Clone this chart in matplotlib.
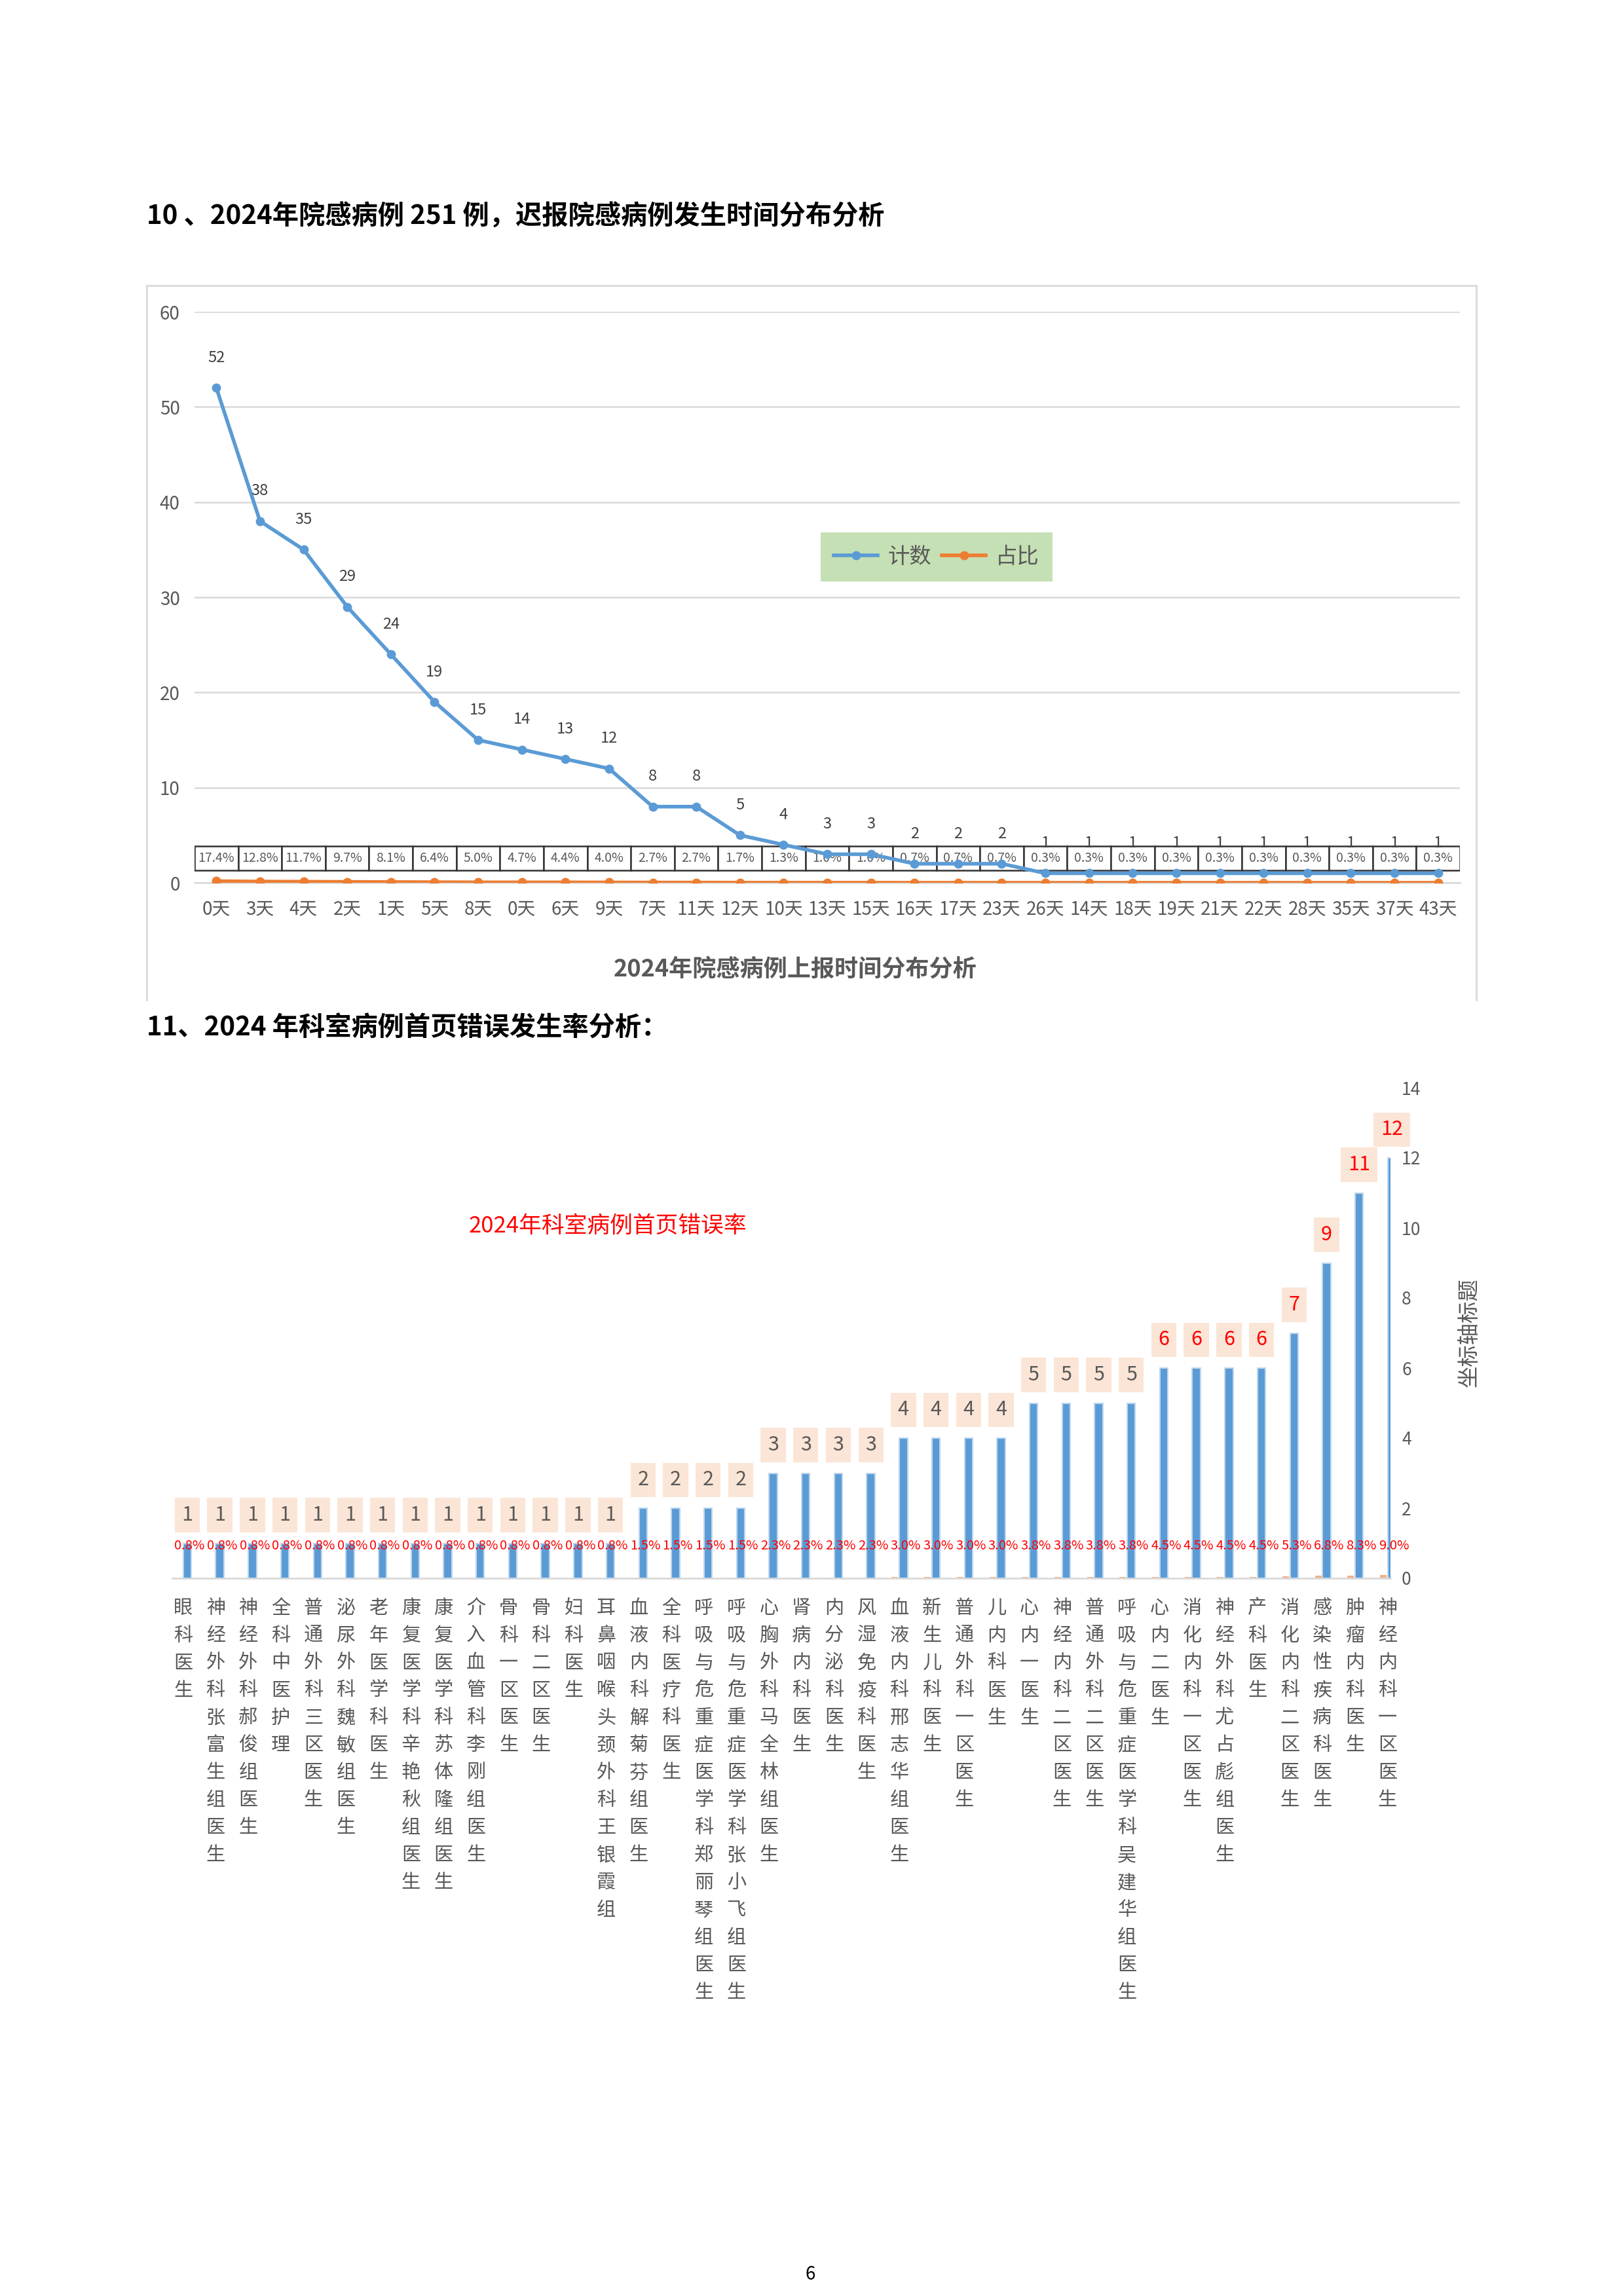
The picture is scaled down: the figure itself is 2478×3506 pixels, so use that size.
import matplotlib
matplotlib.use('Agg')
import matplotlib.pyplot as plt
from matplotlib.patches import Rectangle
from matplotlib.lines import Line2D
import numpy as np

plt.rcParams['font.family'] = ['Noto Sans CJK SC', 'DejaVu Sans']

# 图1 数据：院感病例上报时间分布
days = ['0天', '3天', '4天', '2天', '1天', '5天', '8天', '0天', '6天', '9天',
        '7天', '11天', '12天', '10天', '13天', '15天', '16天', '17天', '23天', '26天',
        '14天', '18天', '19天', '21天', '22天', '28天', '35天', '37天', '43天']
counts = [52, 38, 35, 29, 24, 19, 15, 14, 13, 12,
          8, 8, 5, 4, 3, 3, 2, 2, 2, 1,
          1, 1, 1, 1, 1, 1, 1, 1, 1]
share = [17.4, 12.8, 11.7, 9.7, 8.1, 6.4, 5.0, 4.7, 4.4, 4.0,
         2.7, 2.7, 1.7, 1.3, 1.0, 1.0, 0.7, 0.7, 0.7, 0.3,
         0.3, 0.3, 0.3, 0.3, 0.3, 0.3, 0.3, 0.3, 0.3]

# 图2 数据：科室病例首页错误
depts = ['眼科医生', '神经外科张富生组医生', '神经外科郝俊组医生', '全科中医护理',
         '普通外科三区医生', '泌尿外科魏敏组医生', '老年医学科医生', '康复医学科辛艳秋组医生',
         '康复医学科苏体隆组医生', '介入血管科李刚组医生', '骨科一区医生', '骨科二区医生',
         '妇科医生', '耳鼻咽喉头颈外科王银霞组', '血液内科解菊芬组医生', '全科医疗科医生',
         '呼吸与危重症医学科郑丽琴组医生', '呼吸与危重症医学科张小飞组医生', '心胸外科马全林组医生',
         '肾病内科医生', '内分泌科医生', '风湿免疫科医生', '血液内科邢志华组医生', '新生儿科医生',
         '普通外科一区医生', '儿内科医生', '心内一医生', '神经内科二区医生', '普通外科二区医生',
         '呼吸与危重症医学科吴建华组医生', '心内二医生', '消化内科一区医生', '神经外科尤占彪组医生',
         '产科医生', '消化内科二区医生', '感染性疾病科医生', '肿瘤内科医生', '神经内科一区医生']
errors = [1, 1, 1, 1, 1, 1, 1, 1, 1, 1, 1, 1, 1, 1,
          2, 2, 2, 2, 3, 3, 3, 3, 4, 4, 4, 4,
          5, 5, 5, 5, 6, 6, 6, 6, 7, 9, 11, 12]
err_pct = [0.8, 0.8, 0.8, 0.8, 0.8, 0.8, 0.8, 0.8, 0.8, 0.8, 0.8, 0.8, 0.8, 0.8,
           1.5, 1.5, 1.5, 1.5, 2.3, 2.3, 2.3, 2.3, 3.0, 3.0, 3.0, 3.0,
           3.8, 3.8, 3.8, 3.8, 4.5, 4.5, 4.5, 4.5, 5.3, 6.8, 8.3, 9.0]

W, H = 2478, 3506
fig = plt.figure(figsize=(W / 100, H / 100), dpi=100)
gray = '#595959'
blue = '#5b9bd5'
orange = '#ed7d31'


def fx(px):
    return px / W


def fy(py):
    return 1 - py / H


# 段落标题
fig.text(fx(224), fy(331), '10 、2024年院感病例 251 例，迟报院感病例发生时间分布分析',
         fontsize=29, fontweight='bold', va='center', ha='left')
fig.text(fx(224), fy(1570), '11、2024 年科室病例首页错误发生率分析：',
         fontsize=29, fontweight='bold', va='center', ha='left')
fig.text(fx(1237), fy(3473), '6', fontsize=20, ha='center', va='center')

# 图1 外框
for (x0, y0, x1, y1) in [(224, 436, 2254, 436), (224, 436, 224, 1527), (2254, 436, 2254, 1527)]:
    fig.add_artist(Line2D([fx(x0), fx(x1)], [fy(y0), fy(y1)], color='#d9d9d9', lw=2))

# ---------- 图1 ----------
ax = fig.add_axes([fx(297), fy(1348), (2229 - 297) / W, (1348 - 476) / H])
x = np.arange(len(days))
ax.set_xlim(-0.5, len(days) - 0.5)
ax.set_ylim(0, 60)
ax.set_yticks(range(0, 61, 10))
ax.grid(axis='y', color='#d9d9d9', lw=1.8)
ax.set_axisbelow(True)
for s in ['left', 'right', 'top']:
    ax.spines[s].set_visible(False)
ax.spines['bottom'].set_color('#d9d9d9')
ax.spines['bottom'].set_linewidth(1.8)
ax.tick_params(length=0, labelsize=20, labelcolor=gray)
ax.tick_params(axis='y', pad=16)
ax.tick_params(axis='x', pad=18)
ax.set_xticks(x)
ax.set_xticklabels(days)

ax.plot(x, counts, color=blue, lw=4, marker='o', ms=9, zorder=5, label='计数')
ax.plot(x, np.array(share) / 100, color=orange, lw=4, marker='o', ms=9, zorder=4, label='占比')

for i, c in enumerate(counts):
    ax.annotate(str(c), (i, c), xytext=(0, 33), textcoords='offset points',
                ha='center', va='center', fontsize=17, color='#404040', zorder=6)

for i, p in enumerate(share):
    ax.add_patch(Rectangle((i - 0.5, 1.3), 1.0, 2.55, facecolor='white',
                           edgecolor='#333333', lw=1.8, zorder=3))
    ax.text(i, 2.575, f'{p:.1f}%', ha='center', va='center', fontsize=14,
            color=gray, zorder=3.5)

leg = ax.legend(loc='center', bbox_to_anchor=(0.5865, 0.5705), ncol=2, fontsize=24,
                frameon=True, fancybox=False, handlelength=2.0, columnspacing=0.5,
                handletextpad=0.45, borderpad=0.6)
leg.get_frame().set_facecolor('#c5e0b4')
leg.get_frame().set_edgecolor('none')
leg.get_frame().set_alpha(1)
for t in leg.get_texts():
    t.set_color(gray)

fig.text(fx(1214), fy(1480), '2024年院感病例上报时间分布分析', fontsize=26,
         color=gray, ha='center', va='center', fontweight='bold')

# ---------- 图2 ----------
pu = 49.7
left_d, right_d = -0.33, 37.1
bx = fig.add_axes([fx(279.5 + left_d * pu), fy(2410), (right_d - left_d) * pu / W, (2410 - 1661) / H])
g = np.arange(len(depts))
bx.set_xlim(left_d, right_d)
bx.set_ylim(0, 14)
bar_w = 0.25
bx.bar(g - 0.13, np.array(err_pct) / 100, width=0.2, color='#f4b183', zorder=2)
bx.bar(g + 0.13, errors, width=bar_w, color=blue, edgecolor='#bdd7ee', lw=1.5, zorder=3)

for s in ['left', 'right', 'top']:
    bx.spines[s].set_visible(False)
bx.spines['bottom'].set_color('#d9d9d9')
bx.spines['bottom'].set_linewidth(2)
bx.yaxis.tick_right()
bx.set_yticks(range(0, 15, 2))
bx.tick_params(axis='y', length=0, labelsize=19, labelcolor=gray, pad=12)
bx.set_xticks(g)
bx.set_xticklabels(['\n'.join(d) for d in depts], fontsize=21, color=gray,
                   linespacing=1.52, va='top')
bx.tick_params(axis='x', length=0, pad=22)

for i, v in enumerate(errors):
    col = 'red' if v >= 6 else gray
    bx.annotate(str(v), (i + 0.13, v), xytext=(0, 31), textcoords='offset points',
                ha='center', va='center', fontsize=22, color=col, zorder=6,
                annotation_clip=False,
                bbox=dict(boxstyle='square,pad=0.35', fc='#fbe5d6', ec='none'))

for i, p in enumerate(err_pct):
    bx.text(i + 0.2, 0.92, f'{p:.1f}%', ha='center', va='center', fontsize=14.5,
            color='red', zorder=7, clip_on=False)

fig.text(fx(928), fy(1872), '2024年科室病例首页错误率', fontsize=25, color='red',
         ha='center', va='center')
fig.text(fx(2243), fy(2035), '坐标轴标题', fontsize=24, color=gray, rotation=90,
         ha='center', va='center')

fig.savefig('out.png', dpi=100, facecolor='white')
